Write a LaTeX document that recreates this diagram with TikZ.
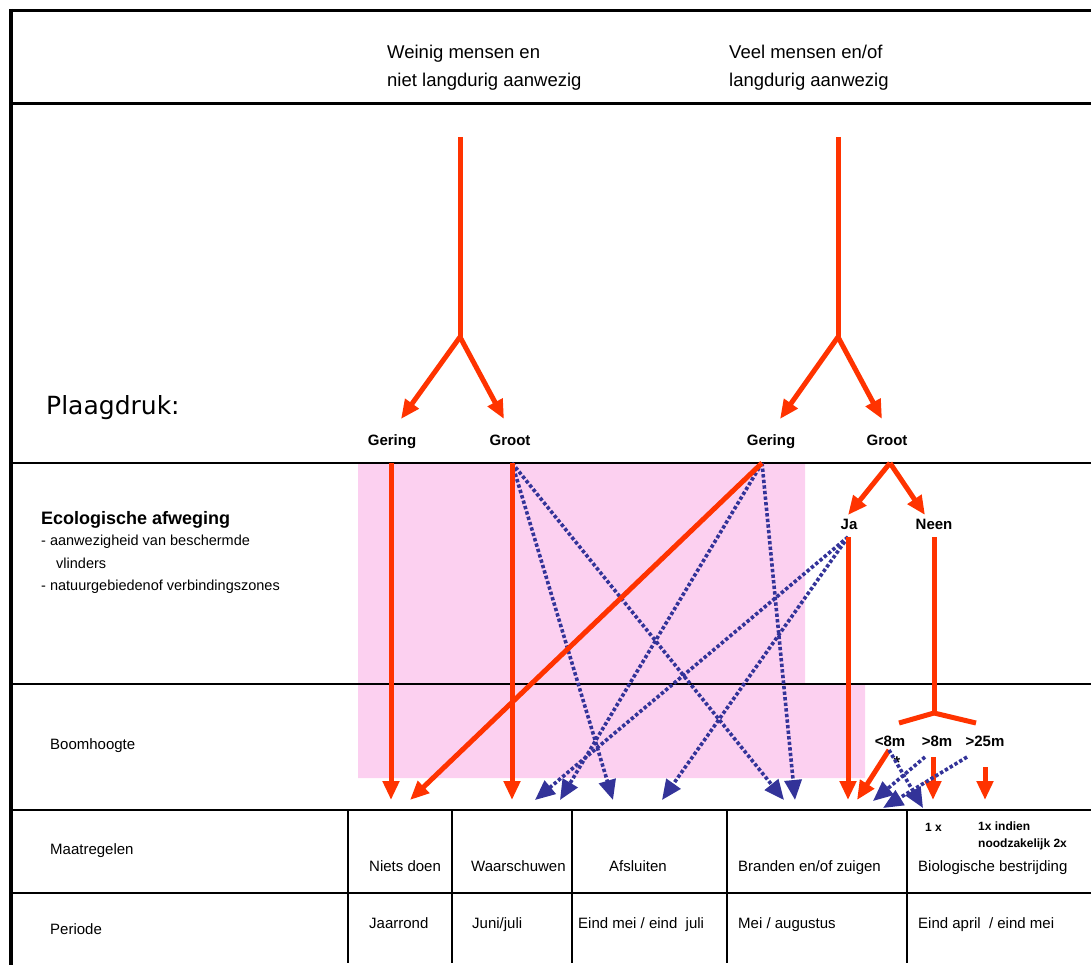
\documentclass[tikz,border=0pt]{standalone}
\usepackage{fontspec}
\setmainfont{Liberation Sans}
\newfontfamily\plaagfont{DejaVu Sans}
\usetikzlibrary{arrows.meta}
\definecolor{plaagrood}{RGB}{255,51,0}
\definecolor{plaagblauw}{RGB}{51,51,153}
\definecolor{plaagroze}{RGB}{252,208,240}

\begin{document}
\begin{tikzpicture}[x=1pt,y=-1pt,
  rood/.style={draw=plaagrood,line width=5pt},
  roodpijl/.style={rood,-{Triangle[length=19pt,width=16pt]}},
  blauwpijl/.style={draw=plaagblauw,line width=3.6pt,dash pattern=on 3.4pt off 2.2pt,-{Triangle[length=20pt,width=17pt]}},
  kop/.style={inner sep=0pt,font=\fontsize{18.5}{22}\selectfont},
  tekst/.style={inner sep=0pt,font=\fontsize{15}{18}\selectfont},
  klein/.style={inner sep=0pt,font=\fontsize{14.5}{17}\selectfont},
  vet/.style={inner sep=0pt,font=\fontsize{15}{18}\selectfont\bfseries},
  mini/.style={inner sep=0pt,font=\fontsize{12}{14}\selectfont\bfseries}]
\useasboundingbox (0,0) rectangle (1091,965);

\fill[plaagroze] (358,463) -- (805,463) -- (805,684) -- (865,684) -- (865,778) -- (358,778) -- cycle;

\draw[line width=4pt] (11,9) -- (11,965);
\draw[line width=3pt] (9,11) -- (1091,11);
\draw[line width=3pt] (11,104) -- (1091,104);
\draw[line width=2pt] (11,463) -- (1091,463);
\draw[line width=2pt] (11,684) -- (1091,684);
\draw[line width=2pt] (11,810) -- (1091,810);
\draw[line width=2pt] (11,893) -- (1091,893);
\draw[line width=2pt] (348,810) -- (348,963);
\draw[line width=2pt] (452,810) -- (452,963);
\draw[line width=2pt] (572,810) -- (572,963);
\draw[line width=2pt] (727,810) -- (727,963);
\draw[line width=2pt] (907,810) -- (907,963);

\node[kop,anchor=base west] (weinig1) at (387,59) {Weinig mensen en};
\node[kop,anchor=base west] (weinig2) at (387,87) {niet langdurig aanwezig};
\node[kop,anchor=base west] (veel1) at (729,59) {Veel mensen en/of};
\node[kop,anchor=base west] (veel2) at (729,87) {langdurig aanwezig};

\node[anchor=base west,inner sep=0pt,font=\plaagfont\fontsize{25}{30}\selectfont] (plaag) at (46,414) {Plaagdruk:};
\node[vet,anchor=base] (gering1) at (392,445) {Gering};
\node[vet,anchor=base] (groot1) at (510,445) {Groot};
\node[vet,anchor=base] (gering2) at (771,445) {Gering};
\node[vet,anchor=base] (groot2) at (887,445) {Groot};

\node[anchor=base west,inner sep=0pt,font=\fontsize{18}{22}\selectfont\bfseries] (eco) at (41,524) {Ecologische afweging};
\node[klein,anchor=base west] (eco1) at (41,545) {- aanwezigheid van beschermde};
\node[klein,anchor=base west] (eco2) at (56,568) {vlinders};
\node[klein,anchor=base west] (eco3) at (41,590) {- natuurgebiedenof verbindingszones};
\node[vet,anchor=base] (ja) at (849,529) {Ja};
\node[vet,anchor=base] (neen) at (934,529) {Neen};

\node[tekst,anchor=base west] (boom) at (50,749) {Boomhoogte};
\node[vet,anchor=base] (lager8) at (890,746) {<8m};
\node[vet,anchor=base] (hoger8) at (937,746) {>8m};
\node[vet,anchor=base] (hoger25) at (985,746) {>25m};
\node[anchor=base,inner sep=0pt,font=\fontsize{17}{18}\selectfont\bfseries] (ster) at (897,768) {*};

\node[tekst,anchor=base west] (maat) at (50,854) {Maatregelen};
\node[tekst,anchor=base west] (niets) at (369,871) {Niets doen};
\node[tekst,anchor=base west] (waarsch) at (471,871) {Waarschuwen};
\node[tekst,anchor=base west] (afsl) at (609,871) {Afsluiten};
\node[tekst,anchor=base west] (brand) at (738,871) {Branden en/of zuigen};
\node[tekst,anchor=base west] (bio) at (918,871) {Biologische bestrijding};
\node[mini,anchor=base west] (eenx) at (925,831) {1 x};
\node[mini,anchor=base west] (indien1) at (978,830) {1x indien};
\node[mini,anchor=base west] (indien2) at (978,847) {noodzakelijk 2x};

\node[tekst,anchor=base west] (periode) at (50,934) {Periode};
\node[tekst,anchor=base west] (jaar) at (369,928) {Jaarrond};
\node[tekst,anchor=base west] (juni) at (472,928) {Juni/juli};
\node[tekst,anchor=base west] (eindmei) at (578,928) {Eind mei / eind~ juli};
\node[tekst,anchor=base west] (meiaug) at (738,928) {Mei / augustus};
\node[tekst,anchor=base west] (eindapr) at (918,928) {Eind april~ / eind mei};

\coordinate (stam1) at (460,137);
\coordinate (vork1) at (460,337);
\coordinate (pijl1a) at (401,419);
\coordinate (pijl1b) at (504,419);
\coordinate (stam2) at (838,137);
\coordinate (vork2) at (838,337);
\coordinate (pijl2a) at (780,419);
\coordinate (pijl2b) at (882,419);

\coordinate (van1) at (391,463);
\coordinate (van2) at (512,463);
\coordinate (van3) at (762,463);
\coordinate (van4) at (890,463);
\coordinate (naarja) at (848,515);
\coordinate (naarneen) at (925,515);
\coordinate (vanja) at (848,537);
\coordinate (vanneen) at (934,537);
\coordinate (neenvork) at (934,713);
\coordinate (neenl) at (899,723);
\coordinate (neenr) at (976,723);
\coordinate (van8a) at (889,750);
\coordinate (van8b) at (933,757);
\coordinate (van8c) at (925,757);
\coordinate (van25a) at (985,767);
\coordinate (van25b) at (967,757);

\coordinate (niets1) at (391,800);
\coordinate (niets2) at (410,800);
\coordinate (waar1) at (512,800);
\coordinate (waar2) at (535,800);
\coordinate (waar3) at (560,800);
\coordinate (afs1) at (613,800);
\coordinate (afs2) at (662,800);
\coordinate (brand1) at (784,800);
\coordinate (brand2) at (795,800);
\coordinate (brand3) at (848,800);
\coordinate (brand4) at (857,800);
\coordinate (brand5) at (873,801);
\coordinate (brand6) at (883,808);
\coordinate (bio1) at (933,800);
\coordinate (bio2) at (985,800);
\coordinate (bio3) at (923,808);

\draw[rood] (stam1) -- (vork1);
\draw[roodpijl] (vork1) -- (pijl1a);
\draw[roodpijl] (vork1) -- (pijl1b);
\draw[rood] (stam2) -- (vork2);
\draw[roodpijl] (vork2) -- (pijl2a);
\draw[roodpijl] (vork2) -- (pijl2b);

\draw[blauwpijl] (van2) -- (afs1);
\draw[blauwpijl] (van2) -- (brand1);
\draw[blauwpijl] (van3) -- (waar3);
\draw[blauwpijl] (van3) -- (brand2);
\draw[blauwpijl] (vanja) -- (waar2);
\draw[blauwpijl] (vanja) -- (afs2);
\draw[roodpijl] (van1) -- (niets1);
\draw[roodpijl] (van2) -- (waar1);
\draw[roodpijl] (van3) -- (niets2);

\draw[roodpijl] (van4) -- (naarja);
\draw[roodpijl] (van4) -- (naarneen);
\draw[roodpijl] (vanja) -- (brand3);
\draw[rood] (vanneen) -- (neenvork);
\draw[rood] (neenl) -- (neenvork) -- (neenr);
\draw[roodpijl] (van8a) -- (brand4);
\draw[roodpijl] (van8b) -- (bio1);
\draw[roodpijl] (van25a) -- (bio2);
\draw[blauwpijl] (van8a) -- (bio3);
\draw[blauwpijl] (van8c) -- (brand5);
\draw[blauwpijl] (van25b) -- (brand6);
\end{tikzpicture}
\end{document}
